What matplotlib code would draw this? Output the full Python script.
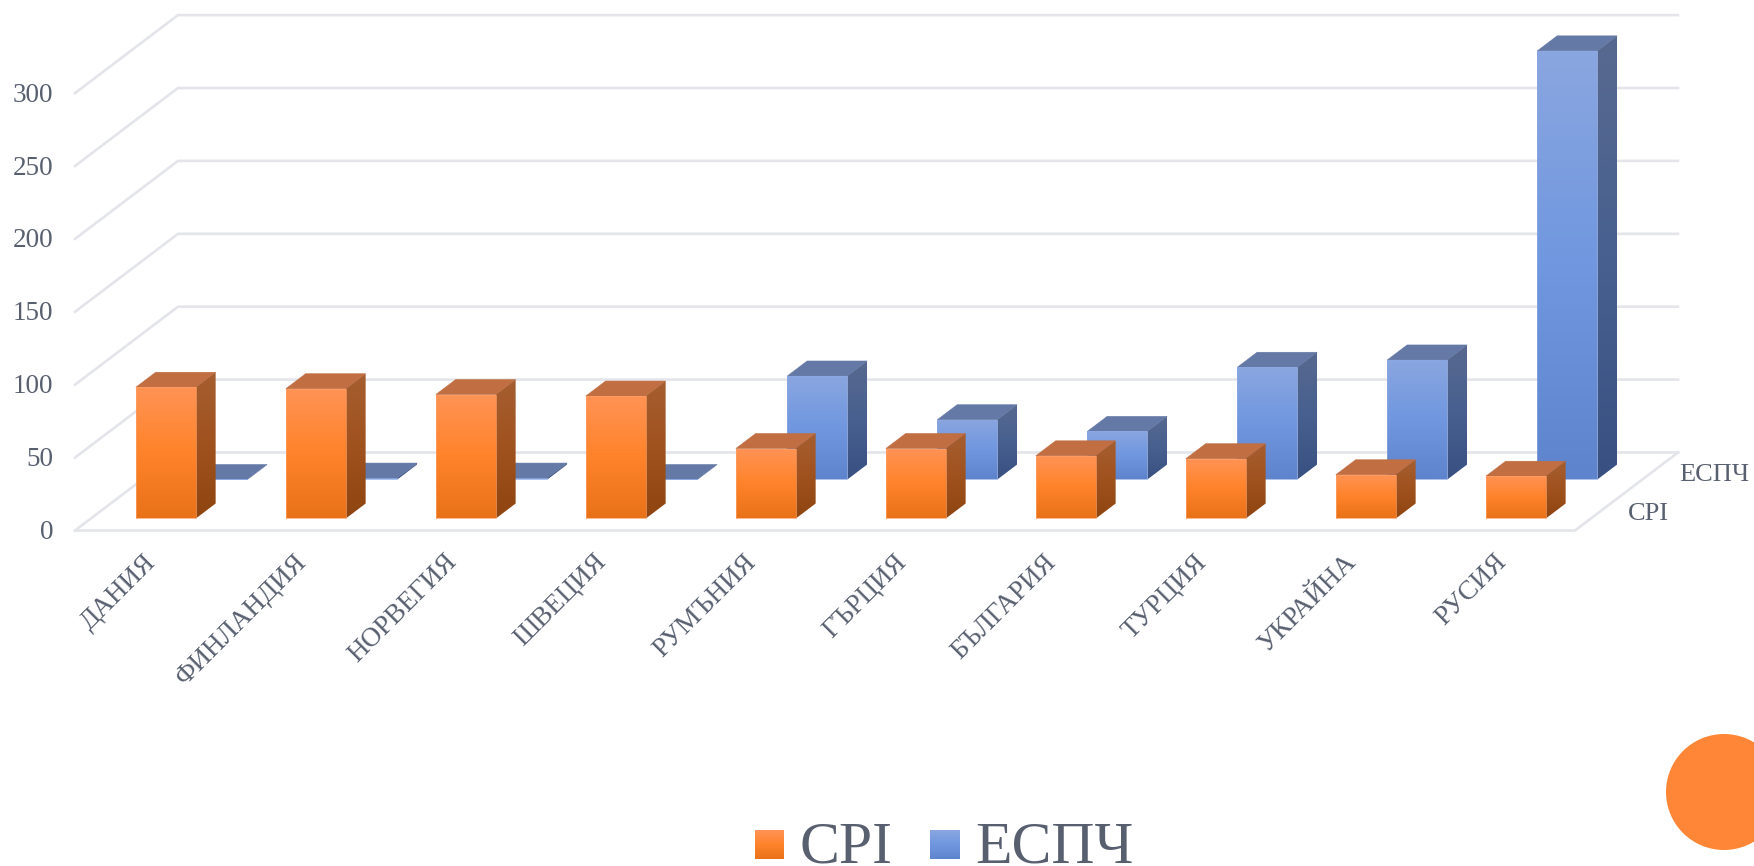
import numpy as np
import matplotlib
matplotlib.use('Agg')
import matplotlib.pyplot as plt
from matplotlib.colors import LinearSegmentedColormap
from matplotlib.patches import Polygon, Circle

plt.rcParams['font.family'] = ['Liberation Serif', 'DejaVu Serif']

countries = ['ДАНИЯ', 'ФИНЛАНДИЯ', 'НОРВЕГИЯ', 'ШВЕЦИЯ', 'РУМЪНИЯ',
             'ГЪРЦИЯ', 'БЪЛГАРИЯ', 'ТУРЦИЯ', 'УКРАЙНА', 'РУСИЯ']
cpi = [90, 89, 85, 84, 48, 48, 43, 41, 30, 29]
espch = [0, 1, 1, 0, 71, 41, 33, 77, 82, 294]
yticks = [0, 50, 100, 150, 200, 250, 300]

W, H = 1754, 866
text_col = '#586070'
grid_col = '#E4E5EA'

# one value unit / one category in pixels, and where the front corner sits
px_val = 1.458
px_cat = 150.0
x0, y0 = 75.0, 530.5
# how far the depth axis goes, in data units
depth_x = 103.0 / px_cat
depth_y = 78.0 / px_val


def proj(x, v, d):
    return x + d * depth_x, v + d * depth_y


orange_front = LinearSegmentedColormap.from_list('of', ['#E97218', '#FF832A', '#FF9355'])
orange_side = LinearSegmentedColormap.from_list('os', ['#8F4510', '#A0521E', '#A65E30'])
blue_front = LinearSegmentedColormap.from_list('bf', ['#5E84CD', '#7097DF', '#8AA6E0'])
blue_side = LinearSegmentedColormap.from_list('bs', ['#385182', '#47608F', '#58698F'])
grad = np.linspace(1, 0, 64).reshape(-1, 1)

fig = plt.figure(figsize=(W / 100, H / 100), dpi=100)
ax = fig.add_axes([0, 0, 1, 1])
ax.set_xlim(-x0 / px_cat, (W - x0) / px_cat)
ax.set_ylim(-(H - y0) / px_val, y0 / px_val)
ax.axis('off')

# walls and floor
n = len(countries)
for v in yticks:
    p1 = proj(0, v, 0)
    p2 = proj(0, v, 1)
    p3 = proj(n, v, 1)
    ax.plot([p1[0], p2[0], p3[0]], [p1[1], p2[1], p3[1]], color=grid_col, lw=1.9, zorder=1,
            solid_joinstyle='miter')
    ax.text(p1[0] - 0.145, v - 1.4, str(v), ha='right', va='center', fontsize=19.5, color=text_col)
fl = [proj(0, 0, 0), proj(n, 0, 0), proj(n, 0, 1)]
ax.plot([p[0] for p in fl], [p[1] for p in fl], color=grid_col, lw=1.9, zorder=1,
        solid_joinstyle='miter')


def gradient_face(pts, cmap, z):
    poly = Polygon(pts, closed=True, fc='none', ec='none', zorder=z)
    ax.add_patch(poly)
    xs = [p[0] for p in pts]
    ys = [p[1] for p in pts]
    im = ax.imshow(grad, cmap=cmap, extent=[min(xs), max(xs), min(ys), max(ys)], aspect='auto',
                   zorder=z, vmin=0, vmax=1, interpolation='bilinear')
    im.set_clip_path(poly)


def bar3d(i, val, d0, d1, front, side, top_col, edge_col, z):
    # bar is 0.4 of a category wide, centred in the category band
    xl = i + 0.3
    xr = i + 0.7
    a = proj(xl, val, d0)
    b = proj(xr, val, d0)
    c = proj(xr, val, d1)
    e = proj(xl, val, d1)
    ax.add_patch(Polygon([a, b, c, e], closed=True, fc=top_col, ec=top_col, lw=0.4, zorder=z))
    b0 = proj(xr, 0, d0)
    c0 = proj(xr, 0, d1)
    a0 = proj(xl, 0, d0)
    if val > 0:
        gradient_face([b0, c0, c, b], side, z + 0.1)
        gradient_face([a0, b0, b, a], front, z + 0.2)
    ax.plot([a0[0], b0[0], b[0], a[0], a0[0]], [a0[1], b0[1], b[1], a[1], a0[1]],
            color=edge_col, lw=0.5, zorder=z + 0.3)


for i in range(n):
    bar3d(i, espch[i], 0.654, 0.846, blue_front, blue_side, '#6579A6', '#8CA8E2', 2 + i * 0.01)
for i in range(n):
    bar3d(i, cpi[i], 0.154, 0.346, orange_front, orange_side, '#C06E42', '#FFA066', 4 + i * 0.01)

# category labels
for i, name in enumerate(countries):
    ax.text(i + 0.517, -19.2, name, rotation=45, rotation_mode='anchor', ha='right', va='center',
            fontsize=19.5, color=text_col)

# series names on the depth axis
for name, d in [('CPI', 0.25), ('ЕСПЧ', 0.75)]:
    p = proj(n, 0, d)
    ax.text(p[0] + 27 / px_cat, p[1] - 2.2, name, ha='left', va='center', fontsize=19, color=text_col)

# second axes in pixels for legend and the page circle
ov = fig.add_axes([0, 0, 1, 1])
ov.set_xlim(0, W)
ov.set_ylim(H, 0)
ov.axis('off')
ov.patch.set_alpha(0)
ov.add_patch(Circle((1724, 792), 58, fc='#FF8636', ec='none'))

for sw_x, sw_w, cmap, label, tx in [(755, 29, orange_front, 'CPI', 800),
                                    (930, 30, blue_front, 'ЕСПЧ', 975)]:
    ov.imshow(grad, cmap=cmap, extent=[sw_x, sw_x + sw_w, 859, 830], aspect='auto', vmin=0, vmax=1)
    ov.text(tx, 862.5, label, ha='left', va='baseline', fontsize=43, color=text_col)
ov.set_xlim(0, W)
ov.set_ylim(H, 0)

fig.savefig('out.png', dpi=100)
